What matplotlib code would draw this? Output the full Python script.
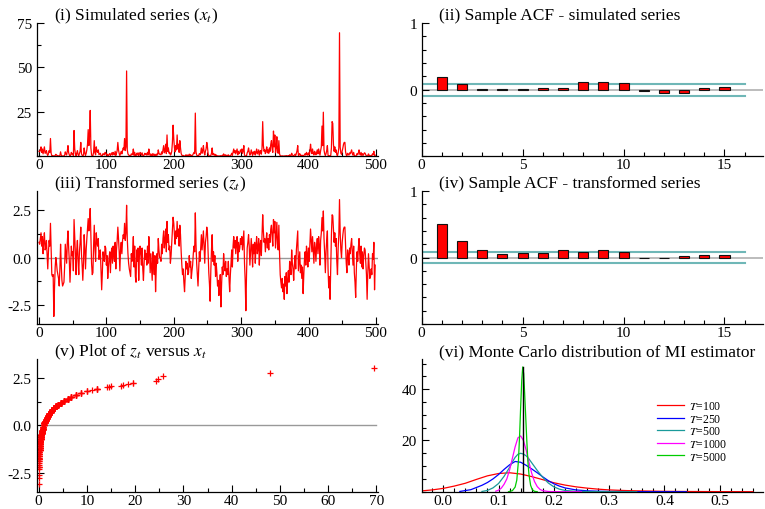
import matplotlib
matplotlib.use('Agg')
import matplotlib.pyplot as plt
from matplotlib.ticker import MultipleLocator, FixedLocator

# ---------------- Datos ----------------
# (i) serie simulada x_t, t = 0..499
x_t = [
    2.8, 2.5, 3.6, 5.3, 2.2, 4.1, 1.35, 3.2, 5.3, 1.7, 1.95, 3.2, 1.2, 0.5, 1.5, 3.2, 2.2, 10, 1.7, 0.34,
    0.3, 0.34, 0.01, 0.12, 0.56, 1.1, 0.72, 0.43, 0.34, 0.26, 0.14, 0.5, 2.5, 0.63, 0.22, 0.14, 0.16, 0.19, 0.56, 2.5,
    1.35, 0.72, 2.8, 6.0, 1.95, 0.82, 0.19, 0.63, 2.2, 1.2, 1.5, 0.43, 14.5, 4.1, 1.35, 0.34, 1.7, 3.2, 0.82, 0.34,
    1.5, 2.8, 7.8, 1.35, 0.63, 0.22, 0.72, 4.7, 1.95, 0.5, 1.7, 3.6, 6.8, 15, 6.0, 12, 25.8, 4.7, 0.72, 0.34,
    0.38, 2.2, 8.8, 1.95, 0.82, 5.3, 2.8, 2.2, 3.6, 0.92, 1.35, 1.7, 0.5, 0.1, 0.38, 1.5, 1.1, 0.82, 2.2, 1.95,
    0.63, 1.2, 0.26, 0.56, 1.1, 1.5, 0.38, 1.35, 1.95, 0.72, 2.2, 1.2, 0.82, 2.8, 0.5, 1.7, 3.2, 7.8, 3.6, 1.5,
    0.43, 1.7, 2.8, 1.35, 3.2, 4.7, 3.6, 10, 3.2, 5.3, 48, 3.6, 1.35, 0.72, 0.5, 0.38, 0.3, 1.35, 0.82, 1.5,
    4.1, 0.56, 2.2, 0.3, 0.19, 1.7, 0.82, 1.95, 0.22, 1.2, 2.2, 1.35, 0.63, 1.95, 0.5, 0.22, 0.72, 1.7, 0.92, 1.35,
    0.63, 2.2, 0.72, 4.1, 1.5, 0.38, 1.35, 0.56, 0.22, 1.5, 0.82, 0.34, 1.2, 0.09, 0.5, 1.35, 0.72, 3.6, 1.7, 1.1,
    1.1, 0.82, 2.5, 1.35, 3.6, 6.0, 1.95, 3.2, 6.8, 1.5, 12, 2.8, 4.7, 1.7, 2.2, 0.72, 1.2, 2.8, 7.8, 17.5,
    10, 4.7, 2.5, 6.0, 3.6, 12, 4.1, 6.8, 2.2, 8.8, 4.7, 1.5, 0.63, 0.34, 0.5, 0.19, 0.09, 0.3, 0.82, 0.5,
    0.72, 0.34, 0.38, 1.2, 0.56, 0.82, 0.26, 0.43, 0.63, 1.35, 2.2, 1.5, 24.3, 2.5, 0.72, 0.34, 0.14, 0.5, 1.5, 0.82,
    1.95, 4.7, 1.7, 3.2, 6.0, 2.2, 0.72, 2.8, 4.1, 7.8, 5.3, 1.35, 0.38, 0.16, 0.04, 0.43, 1.7, 4.7, 0.82, 1.5,
    0.63, 1.2, 0.3, 0.72, 0.38, 0.14, 0.22, 0.07, 0.12, 0.34, 0.03, 0.16, 0.56, 0.34, 1.35, 0.63, 0.43, 0.82, 0.3, 0.5,
    0.34, 0.82, 0.26, 0.09, 0.34, 0.72, 1.7, 0.56, 2.2, 4.1, 1.95, 3.2, 1.35, 2.8, 4.1, 0.82, 2.8, 1.5, 1.95, 3.6,
    2.5, 4.1, 1.7, 3.2, 6.0, 0.72, 0.22, 0.02, 0.34, 1.95, 2.8, 4.7, 2.2, 0.63, 1.5, 3.6, 1.7, 0.56, 2.5, 1.35,
    2.8, 0.72, 2.2, 4.1, 1.35, 1.95, 3.6, 0.63, 2.5, 3.2, 1.2, 4.7, 19.5, 6.0, 2.8, 3.6, 1.5, 3.2, 5.3, 1.95,
    3.6, 1.7, 4.7, 2.8, 6.8, 8.8, 4.1, 2.2, 14.2, 5.3, 12, 1.95, 4.7, 11, 2.5, 1.7, 8.8, 1.35, 0.34, 0.19,
    0.12, 0.26, 0.09, 0.16, 0.05, 0.3, 0.14, 0.38, 0.08, 0.22, 0.43, 0.19, 0.82, 0.56, 0.34, 1.7, 0.72, 0.5, 0.22, 0.63,
    1.2, 0.5, 1.7, 3.2, 6.0, 0.43, 0.82, 1.5, 0.38, 0.63, 0.26, 0.56, 0.08, 0.34, 0.92, 1.5, 0.63, 2.2, 1.35, 0.56,
    1.95, 0.82, 2.5, 6.8, 3.2, 1.5, 4.1, 1.7, 0.72, 2.8, 1.95, 0.82, 2.2, 3.6, 1.35, 4.1, 2.5, 0.63, 3.2, 5.3,
    17, 6.0, 24.8, 3.6, 1.35, 0.38, 1.5, 3.2, 6.0, 0.5, 0.12, 0.3, 0.05, 0.56, 4.7, 19.5, 18.5, 6.8, 2.8, 5.3,
    2.2, 3.6, 0.82, 0.34, 1.95, 4.7, 69.5, 5.3, 1.7, 1.1, 2.8, 4.7, 6.8, 7.8, 7.8, 2.5, 0.72, 0.38, 1.7, 1.2,
    0.63, 1.95, 1.35, 2.5, 3.6, 1.5, 0.63, 2.2, 0.38, 0.19, 0.06, 0.5, 1.5, 0.82, 1.95, 3.6, 1.35, 0.72, 2.2, 0.56,
    1.5, 0.5, 1.2, 1.95, 1.7, 0.72, 0.34, 0.05, 0.38, 1.35, 0.56, 0.26, 0.3, 0.5, 0.34, 1.35, 0.92, 2.8, 0.1, 0.63,
]

# (iii) serie transformada z_t, t = 0..499
z_t = [
    0.8, 0.7, 1.0, 1.3, 0.6, 1.1, 0.2, 0.9, 1.3, 0.4, 0.5, 0.9, 0.1, -0.6, 0.3, 0.9, 0.6, 1.8, 0.4, -0.9,
    -1.0, -0.9, -3.1, -1.6, -0.5, 0.0, -0.3, -0.7, -0.9, -1.1, -1.5, -0.6, 0.7, -0.4, -1.2, -1.5, -1.4, -1.3, -0.5, 0.7,
    0.2, -0.3, 0.8, 1.4, 0.5, -0.2, -1.3, -0.4, 0.6, 0.1, 0.3, -0.7, 2.0, 1.1, 0.2, -0.9, 0.4, 0.9, -0.2, -0.9,
    0.3, 0.8, 1.6, 0.2, -0.4, -1.2, -0.3, 1.2, 0.5, -0.6, 0.4, 1.0, 1.5, 2.05, 1.4, 1.9, 2.58, 1.2, -0.3, -0.9,
    -0.8, 0.6, 1.7, 0.5, -0.2, 1.3, 0.8, 0.6, 1.0, -0.1, 0.2, 0.4, -0.6, -1.7, -0.8, 0.3, 0.0, -0.2, 0.6, 0.5,
    -0.4, 0.1, -1.1, -0.5, 0.0, 0.3, -0.8, 0.2, 0.5, -0.3, 0.6, 0.1, -0.2, 0.8, -0.6, 0.4, 0.9, 1.6, 1.0, 0.3,
    -0.7, 0.4, 0.8, 0.2, 0.9, 1.2, 1.0, 1.8, 0.9, 1.3, 2.75, 1.0, 0.2, -0.3, -0.6, -0.8, -1.0, 0.2, -0.2, 0.3,
    1.1, -0.5, 0.6, -1.0, -1.3, 0.4, -0.2, 0.5, -1.2, 0.1, 0.6, 0.2, -0.4, 0.5, -0.6, -1.2, -0.3, 0.4, -0.1, 0.2,
    -0.4, 0.6, -0.3, 1.1, 0.3, -0.8, 0.2, -0.5, -1.2, 0.3, -0.2, -0.9, 0.1, -1.8, -0.6, 0.2, -0.3, 1.0, 0.4, 0.0,
    0.0, -0.2, 0.7, 0.2, 1.0, 1.4, 0.5, 0.9, 1.5, 0.3, 1.9, 0.8, 1.2, 0.4, 0.6, -0.3, 0.1, 0.8, 1.6, 2.12,
    1.8, 1.2, 0.7, 1.4, 1.0, 1.9, 1.1, 1.5, 0.6, 1.7, 1.2, 0.3, -0.4, -0.9, -0.6, -1.3, -1.8, -1.0, -0.2, -0.6,
    -0.3, -0.9, -0.8, 0.1, -0.5, -0.2, -1.1, -0.7, -0.4, 0.2, 0.6, 0.3, 2.35, 0.7, -0.3, -0.9, -1.5, -0.6, 0.3, -0.2,
    0.5, 1.2, 0.4, 0.9, 1.4, 0.6, -0.3, 0.8, 1.1, 1.6, 1.3, 0.2, -0.8, -1.4, -2.3, -0.7, 0.4, 1.2, -0.2, 0.3,
    -0.4, 0.1, -1.0, -0.3, -0.8, -1.5, -1.2, -2.0, -1.6, -0.9, -2.6, -1.4, -0.5, -0.9, 0.2, -0.4, -0.7, -0.2, -1.0, -0.6,
    -0.9, -0.2, -1.1, -1.8, -0.9, -0.3, 0.4, -0.5, 0.6, 1.1, 0.5, 0.9, 0.2, 0.8, 1.1, -0.2, 0.8, 0.3, 0.5, 1.0,
    0.7, 1.1, 0.4, 0.9, 1.4, -0.3, -1.2, -2.8, -0.9, 0.5, 0.8, 1.2, 0.6, -0.4, 0.3, 1.0, 0.4, -0.5, 0.7, 0.2,
    0.8, -0.3, 0.6, 1.1, 0.2, 0.5, 1.0, -0.4, 0.7, 0.9, 0.1, 1.2, 2.25, 1.4, 0.8, 1.0, 0.3, 0.9, 1.3, 0.5,
    1.0, 0.4, 1.2, 0.8, 1.5, 1.7, 1.1, 0.6, 2.0, 1.3, 1.9, 0.5, 1.2, 1.85, 0.7, 0.4, 1.7, 0.2, -0.9, -1.3,
    -1.6, -1.1, -1.8, -1.4, -2.2, -1.0, -1.5, -0.8, -1.9, -1.2, -0.7, -1.3, -0.2, -0.5, -0.9, 0.4, -0.3, -0.6, -1.2, -0.4,
    0.1, -0.6, 0.4, 0.9, 1.4, -0.7, -0.2, 0.3, -0.8, -0.4, -1.1, -0.5, -1.9, -0.9, -0.1, 0.3, -0.4, 0.6, 0.2, -0.5,
    0.5, -0.2, 0.7, 1.5, 0.9, 0.3, 1.1, 0.4, -0.3, 0.8, 0.5, -0.2, 0.6, 1.0, 0.2, 1.1, 0.7, -0.4, 0.9, 1.3,
    2.1, 1.4, 2.45, 1.0, 0.2, -0.8, 0.3, 0.9, 1.4, -0.6, -1.6, -1.0, -2.2, -0.5, 1.2, 2.25, 2.2, 1.5, 0.8, 1.3,
    0.6, 1.0, -0.2, -0.9, 0.5, 1.2, 3.05, 1.3, 0.4, 0.0, 0.8, 1.2, 1.5, 1.6, 1.6, 0.7, -0.3, -0.8, 0.4, 0.1,
    -0.4, 0.5, 0.2, 0.7, 1.0, 0.3, -0.4, 0.6, -0.8, -1.3, -2.1, -0.6, 0.3, -0.2, 0.5, 1.0, 0.2, -0.3, 0.6, -0.5,
    0.3, -0.6, 0.1, 0.5, 0.4, -0.3, -0.9, -2.2, -0.8, 0.2, -0.5, -1.1, -1.0, -0.6, -0.9, 0.2, -0.1, 0.8, -1.7, -0.4,
]
t_index = list(range(len(z_t)))

# (ii) y (iv) autocorrelaciones muestrales
lags = list(range(1, 16))
acf_x = [0.195, 0.085, 0.006, 0.006, 0.007, 0.025, 0.02, 0.11, 0.11, 0.095,
         -0.025, -0.045, -0.045, 0.025, 0.04]
acf_z = [0.505, 0.255, 0.115, 0.05, 0.07, 0.065, 0.115, 0.085, 0.115, 0.08,
         -0.01, -0.01, 0.02, 0.035, 0.035]
conf_band = 0.089

# (vi) densidades Monte Carlo del estimador de MI
mi_true = 0.1438
mi_peak = 48.7
dens_labels = ['$T$=100', '$T$=250', '$T$=500', '$T$=1000', '$T$=5000']
dens_x_100 = [-0.04, -0.02, 0.0, 0.02, 0.04, 0.06, 0.08, 0.1, 0.12, 0.14, 0.16, 0.18,
              0.2, 0.22, 0.24, 0.26, 0.28, 0.3, 0.33, 0.36, 0.4, 0.45, 0.5, 0.56]
dens_y_100 = [0.3, 0.7, 1.3, 2.2, 3.3, 4.8, 6.2, 7.1, 7.4, 6.9, 5.9, 4.7,
              3.5, 2.6, 1.9, 1.4, 1.0, 0.7, 0.45, 0.3, 0.15, 0.07, 0.03, 0.01]
dens_x_250 = [0.03, 0.05, 0.07, 0.08, 0.09, 0.10, 0.11, 0.12, 0.13, 0.14, 0.15, 0.16, 0.17,
              0.18, 0.19, 0.20, 0.21, 0.22, 0.24, 0.26, 0.28, 0.30, 0.33, 0.36, 0.40, 0.44]
dens_y_250 = [0.1, 0.8, 2.5, 3.6, 5.0, 6.7, 8.7, 10.5, 11.8, 11.5, 10.3, 8.9, 7.4,
              5.8, 4.3, 3.1, 2.2, 1.5, 0.7, 0.35, 0.2, 0.1, 0.05, 0.02, 0.01, 0.0]
dens_x_500 = [0.07, 0.08, 0.09, 0.10, 0.11, 0.12, 0.125, 0.13, 0.135, 0.14, 0.145, 0.15,
              0.155, 0.16, 0.17, 0.18, 0.19, 0.20, 0.21, 0.22, 0.24, 0.27, 0.30, 0.35]
dens_y_500 = [0.1, 0.5, 1.5, 3.2, 6.0, 9.5, 11.6, 13.4, 14.6, 15.0, 14.7, 14.0,
              12.8, 11.3, 8.3, 5.6, 3.4, 1.9, 1.0, 0.5, 0.15, 0.04, 0.01, 0.0]
dens_x_1000 = [0.095, 0.10, 0.105, 0.11, 0.115, 0.12, 0.125, 0.13, 0.135, 0.14, 0.145,
               0.15, 0.155, 0.16, 0.165, 0.17, 0.175, 0.18, 0.19, 0.20, 0.22, 0.25]
dens_y_1000 = [0.2, 0.6, 1.4, 2.9, 5.0, 8.5, 13.0, 17.5, 21.0, 21.8, 20.0,
               16.2, 11.5, 7.2, 4.0, 2.0, 0.9, 0.4, 0.1, 0.03, 0.0, 0.0]
dens_x_5000 = [0.118, 0.125, 0.130, 0.133, 0.136, 0.138, 0.140, 0.142, 0.1438, 0.1455,
               0.147, 0.149, 0.151, 0.153, 0.155, 0.158, 0.161, 0.165, 0.17]
dens_y_5000 = [0.0, 0.4, 1.8, 4.5, 12.0, 21.5, 33.0, 43.5, 48.7, 46.0,
               39.5, 30.0, 20.5, 12.0, 6.8, 2.5, 0.8, 0.15, 0.0]
dens_x = [dens_x_100, dens_x_250, dens_x_500, dens_x_1000, dens_x_5000]
dens_y = [dens_y_100, dens_y_250, dens_y_500, dens_y_1000, dens_y_5000]
dens_colors = ['#ff0000', '#0000ff', '#1a9a9a', '#ff00ff', '#00cc00']

# ---------------- Estilo general ----------------
plt.rcParams['font.family'] = ['Liberation Serif', 'DejaVu Serif']
plt.rcParams['mathtext.fontset'] = 'stix'
plt.rcParams['font.size'] = 11
plt.rcParams['xtick.direction'] = 'in'
plt.rcParams['ytick.direction'] = 'in'
plt.rcParams['xtick.major.size'] = 5
plt.rcParams['ytick.major.size'] = 5
plt.rcParams['xtick.minor.size'] = 3
plt.rcParams['ytick.minor.size'] = 3
plt.rcParams['xtick.major.pad'] = 1.5
plt.rcParams['axes.linewidth'] = 0.9

fig = plt.figure(figsize=(7.65, 5.1), dpi=100)

left_col, right_col, width = 0.048, 0.5512, 0.446
ax1 = fig.add_axes([left_col, 0.6916, width, 0.2614])
ax2 = fig.add_axes([right_col, 0.6916, width, 0.2614])
ax3 = fig.add_axes([left_col, 0.3627, width, 0.2608])
ax4 = fig.add_axes([right_col, 0.3627, width, 0.2608])
ax5 = fig.add_axes([left_col, 0.0339, width, 0.2602])
ax6 = fig.add_axes([right_col, 0.0339, width, 0.2602])

for ax in [ax1, ax2, ax3, ax4, ax5, ax6]:
    ax.spines['top'].set_visible(False)
    ax.spines['right'].set_visible(False)
    ax.tick_params(which='both', width=0.8, labelsize=11)


def titulo(ax, texto):
    ax.text(0.05, 1.03, texto, transform=ax.transAxes, fontsize=12.5,
            ha='left', va='baseline')


# (i) Serie simulada
ax1.plot(t_index, x_t, color='#ff0000', lw=0.9)
ax1.set_xlim(-3.4, 503)
ax1.set_ylim(0, 75)
ax1.yaxis.set_major_locator(FixedLocator([25, 50, 75]))
ax1.yaxis.set_minor_locator(MultipleLocator(12.5))
ax1.xaxis.set_major_locator(MultipleLocator(100))
ax1.xaxis.set_minor_locator(MultipleLocator(50))
titulo(ax1, '(i) Simulated series ($x_t$)')

# (iii) Serie transformada
ax3.axhline(0, color='#999999', lw=1, zorder=1)
ax3.plot(t_index, z_t, color='#ff0000', lw=0.9, zorder=2)
ax3.set_xlim(-3.4, 503)
ax3.set_ylim(-3.5, 3.5)
ax3.yaxis.set_major_locator(FixedLocator([-2.5, 0.0, 2.5]))
ax3.yaxis.set_major_formatter(plt.FormatStrFormatter('%.1f'))
ax3.yaxis.set_minor_locator(MultipleLocator(1.25))
ax3.xaxis.set_major_locator(MultipleLocator(100))
ax3.xaxis.set_minor_locator(MultipleLocator(50))
titulo(ax3, '(iii) Transformed series ($z_t$)')

# (v) z_t contra x_t
ax5.plot([0, 70], [0, 0], color='#999999', lw=1, zorder=1)
ax5.scatter(x_t, z_t, marker='+', color='#ff0000', s=18, lw=0.9, zorder=2)
ax5.set_xlim(-0.4, 70.3)
ax5.set_ylim(-3.5, 3.5)
ax5.yaxis.set_major_locator(FixedLocator([-2.5, 0.0, 2.5]))
ax5.yaxis.set_major_formatter(plt.FormatStrFormatter('%.1f'))
ax5.yaxis.set_minor_locator(MultipleLocator(1.25))
ax5.xaxis.set_major_locator(MultipleLocator(10))
ax5.xaxis.set_minor_locator(MultipleLocator(5))
titulo(ax5, '(v) Plot of $z_t$ versus $x_t$')

# (ii) y (iv) ACF
for ax, acf, txt in [(ax2, acf_x, '(ii) Sample ACF - simulated series'),
                     (ax4, acf_z, '(iv) Sample ACF - transformed series')]:
    ax.axhline(0, color='#b0b0b0', lw=1.2, zorder=1)
    ax.plot([0, 16], [conf_band, conf_band], color='#6fb7b7', lw=1.5, zorder=1)
    ax.plot([0, 16], [-conf_band, -conf_band], color='#6fb7b7', lw=1.5, zorder=1)
    ax.bar(lags, acf, width=0.5, color='#ff0000', edgecolor='#111111',
           linewidth=0.8, zorder=2)
    ax.set_xlim(0, 16.9)
    ax.set_ylim(-1, 1)
    ax.yaxis.set_major_locator(FixedLocator([0, 1]))
    ax.yaxis.set_minor_locator(MultipleLocator(0.2))
    ax.xaxis.set_major_locator(MultipleLocator(5))
    ax.xaxis.set_minor_locator(MultipleLocator(1))
    titulo(ax, txt)

# (vi) Distribucion Monte Carlo
for xs, ys, col, lab in zip(dens_x, dens_y, dens_colors, dens_labels):
    ax6.plot(xs, ys, color=col, lw=0.9, label=lab)
ax6.plot([mi_true, mi_true], [0, mi_peak], color='black', lw=1)
ax6.set_xlim(-0.039, 0.578)
ax6.set_ylim(0, 51.8)
ax6.yaxis.set_major_locator(FixedLocator([20, 40]))
ax6.yaxis.set_minor_locator(MultipleLocator(5))
ax6.xaxis.set_major_locator(MultipleLocator(0.1))
ax6.xaxis.set_major_formatter(plt.FormatStrFormatter('%.1f'))
ax6.xaxis.set_minor_locator(MultipleLocator(0.02))
ax6.legend(loc='upper left', bbox_to_anchor=(0.69, 0.69), frameon=False,
           fontsize=8.5, handlelength=2.3, handletextpad=0.4,
           borderpad=0, borderaxespad=0, labelspacing=0.05)
titulo(ax6, '(vi) Monte Carlo distribution of MI estimator')

fig.savefig('out.png', dpi=100)
